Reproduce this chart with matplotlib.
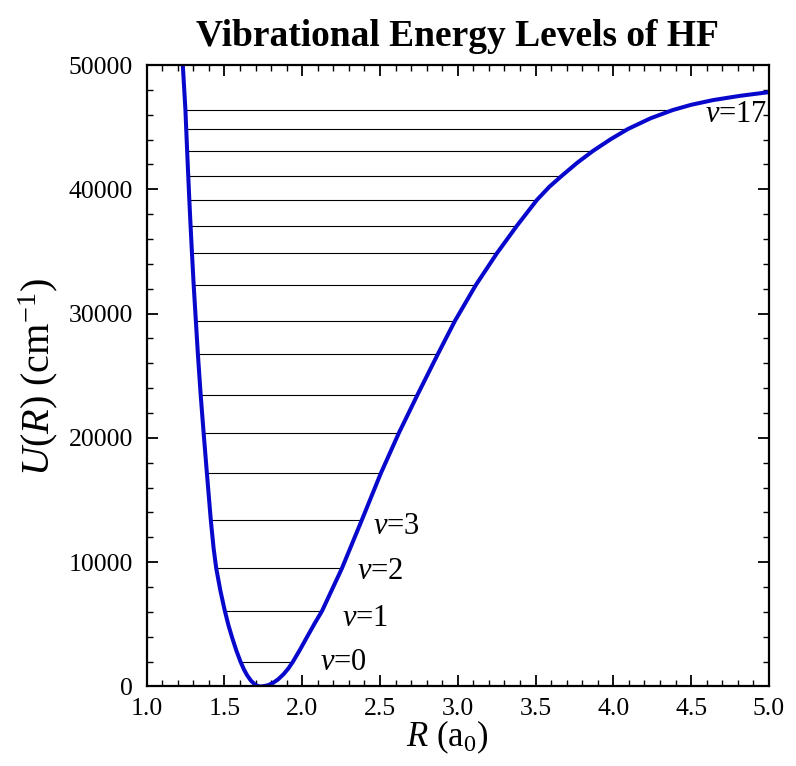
import matplotlib
matplotlib.use("Agg")
import matplotlib.pyplot as plt
from matplotlib.ticker import MultipleLocator, AutoMinorLocator, FormatStrFormatter

plt.rcParams['font.family'] = ['Liberation Serif', 'DejaVu Serif']
plt.rcParams['mathtext.fontset'] = 'custom'
plt.rcParams['mathtext.rm'] = 'Liberation Serif'
plt.rcParams['mathtext.it'] = 'Liberation Serif:italic'
plt.rcParams['mathtext.bf'] = 'Liberation Serif:bold'

# potential energy curve U(R), R in bohr, U in cm^-1
curve_R = [1.232, 1.249, 1.254, 1.260, 1.267, 1.274, 1.282, 1.291, 1.302,
           1.316, 1.329, 1.347, 1.366, 1.387, 1.412, 1.430, 1.447, 1.473,
           1.500, 1.525, 1.550, 1.576, 1.603, 1.625, 1.645, 1.670, 1.695,
           1.715, 1.733, 1.755, 1.780, 1.810, 1.845, 1.880, 1.910, 1.940,
           1.985, 2.035, 2.080, 2.127, 2.255, 2.383, 2.505, 2.621, 2.740,
           2.872, 2.981, 3.116, 3.251, 3.380, 3.508, 3.588, 3.669, 3.768,
           3.868, 3.980, 4.093, 4.240, 4.382, 4.500, 4.641, 4.813, 5.000]
curve_U = [50000, 46380, 44851, 43081, 41094, 39139, 37072, 34851, 32301,
           29405, 26750, 23451, 20394, 17152, 13395, 11124, 9509, 7750,
           6200, 4950, 3900, 2900, 1995, 1376, 914, 468, 170,
           38, 0, 35, 101, 272, 576, 992, 1438, 1995,
           2950, 4080, 5080, 6074, 9509, 13395, 17152, 20394, 23451,
           26750, 29405, 32301, 34851, 37072, 39139, 40200, 41094, 42140,
           43081, 44010, 44851, 45720, 46380, 46800, 47180, 47520, 47820]

# vibrational levels v = 0..16 with classical turning points
level_E = [1995, 6074, 9509, 13395, 17152, 20394, 23451, 26750, 29405,
           32301, 34851, 37072, 39139, 41094, 43081, 44851, 46380]
level_Rmin = [1.606, 1.503, 1.450, 1.413, 1.390, 1.369, 1.350, 1.332, 1.319,
              1.305, 1.294, 1.285, 1.277, 1.270, 1.263, 1.257, 1.252]
level_Rmax = [1.940, 2.127, 2.255, 2.383, 2.505, 2.621, 2.740, 2.872, 2.981,
              3.116, 3.251, 3.380, 3.508, 3.669, 3.868, 4.093, 4.382]

# level labels
label_text = ['0', '1', '2', '3', '17']
label_x = [2.114, 2.253, 2.349, 2.456, 4.588]
label_y = [1890, 5430, 9212, 12856, 46008]

fig = plt.figure(figsize=(7.96, 7.66), dpi=100)
ax = fig.add_axes([0.1843, 0.1038, 0.7817, 0.8113])

ax.hlines(level_E, level_Rmin, level_Rmax, colors='black', linewidth=0.8)
ax.plot(curve_R, curve_U, color='#0808cc', linewidth=2.9,
        solid_joinstyle='round', solid_capstyle='round')

for t, x, y in zip(label_text, label_x, label_y):
    ax.text(x, y, r'$v$=' + t, fontsize=22, ha='left', va='center')

ax.set_xlim(1.0, 5.0)
ax.set_ylim(0, 50000)
ax.xaxis.set_major_locator(MultipleLocator(0.5))
ax.xaxis.set_minor_locator(AutoMinorLocator(5))
ax.yaxis.set_major_locator(MultipleLocator(10000))
ax.yaxis.set_minor_locator(AutoMinorLocator(5))
ax.xaxis.set_major_formatter(FormatStrFormatter('%.1f'))

for s in ax.spines.values():
    s.set_linewidth(1.6)
ax.tick_params(which='both', direction='in', top=True, right=True, labelsize=18.5)
ax.tick_params(which='major', length=8, width=1.3)
ax.tick_params(axis='x', which='major', pad=8)
ax.tick_params(axis='y', which='major', pad=10)
ax.tick_params(which='minor', length=4.5, width=1.0)

ax.set_title('Vibrational Energy Levels of HF', fontsize=27, fontweight='bold', pad=14)
fig.text(447 / 796, 1 - 746 / 766, r'$R$ (a$_0$)', fontsize=25, ha='center', va='baseline')
fig.text(38 / 796, 1 - 377 / 766, r'$U$($R$) (cm$^{-1}$)', fontsize=29,
         ha='center', va='center', rotation=90)

fig.savefig('out.png', dpi=100)
